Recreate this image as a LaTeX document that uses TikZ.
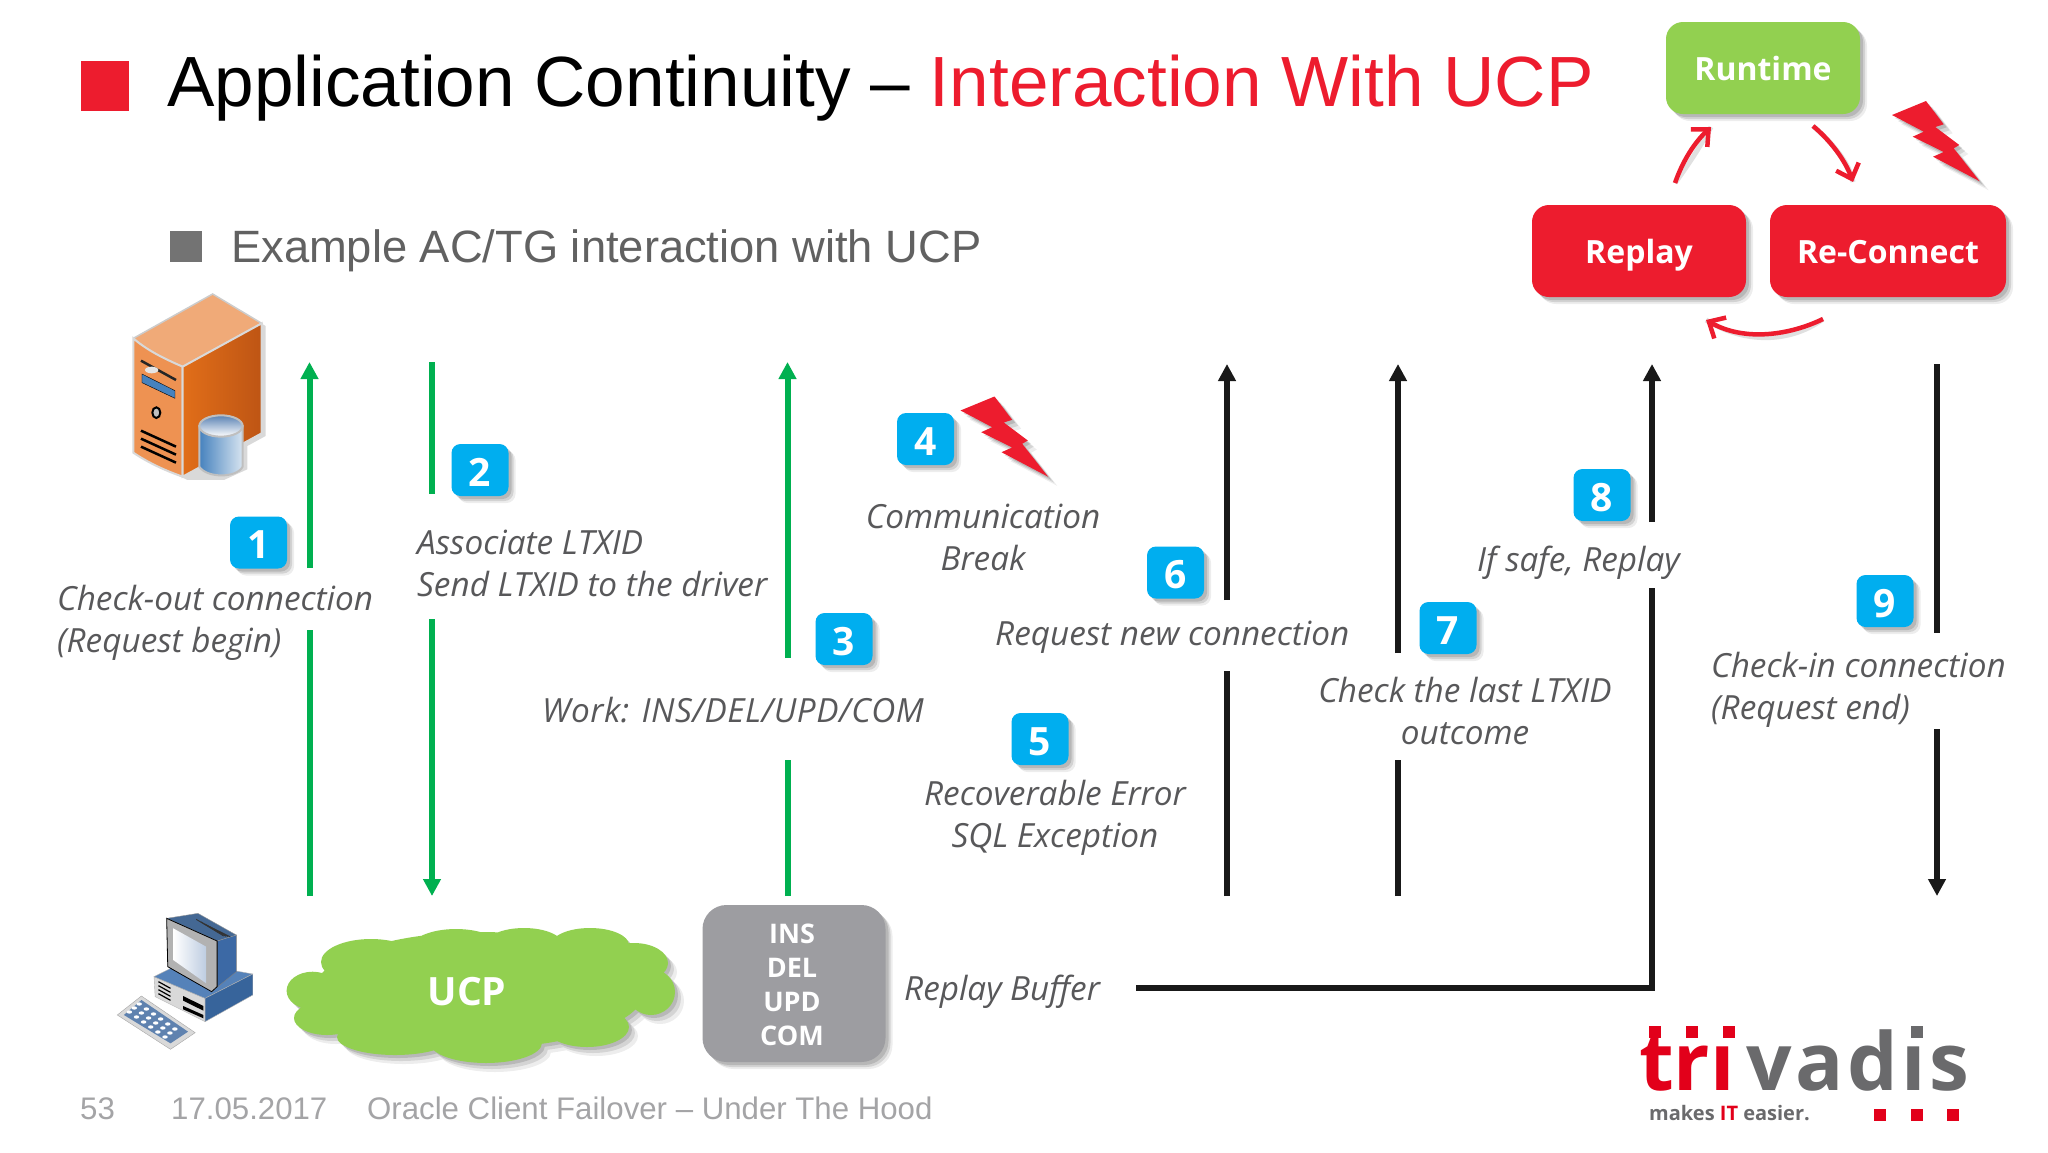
\documentclass[tikz,border=0pt]{standalone}
\usepackage{fontspec}
\setmainfont{Liberation Sans}
\newfontfamily\seg{Open Sans}
\usetikzlibrary{arrows.meta,shadows,calc}
\definecolor{tred}{HTML}{ED1C2E}
\definecolor{tgreen}{HTML}{92D050}
\definecolor{aqua}{HTML}{00AEEF}
\definecolor{arrowgreen}{HTML}{00B050}
\definecolor{ink}{HTML}{58585A}
\definecolor{boxgray}{HTML}{9D9DA1}
\definecolor{footgray}{HTML}{A4A4A6}
\definecolor{logored}{HTML}{E2001A}
\definecolor{logogray}{HTML}{6A6A6C}
\definecolor{srvtop}{HTML}{F0AA78}
\definecolor{srvfront}{HTML}{EE9252}
\definecolor{srvrighta}{HTML}{E16E19}
\definecolor{srvrightb}{HTML}{BE5514}
\definecolor{cyla}{HTML}{4682BE}
\definecolor{cylb}{HTML}{D7E4F0}
\definecolor{cylc}{HTML}{5A82B4}
\definecolor{kbd}{HTML}{5F82AF}
\definecolor{wsa}{HTML}{5582B9}
\definecolor{wsb}{HTML}{37649B}
\definecolor{wsc}{HTML}{3C69A5}
\definecolor{wsd}{HTML}{BECDE1}
\tikzset{
 softshadow/.style={general shadow={shadow xshift=3pt,shadow yshift=-3pt,fill=black,opacity=.13},
  general shadow={shadow xshift=5pt,shadow yshift=-5pt,fill=black,opacity=.11},
  general shadow={shadow xshift=7pt,shadow yshift=-7pt,fill=black,opacity=.07}},
 statebox/.style={softshadow,rounded corners=17pt,text=white,inner sep=0,text height=30pt,text depth=6pt,
  font=\seg\bfseries\fontsize{32}{36}\selectfont},
 numbox/.style={softshadow,fill=aqua,rounded corners=9pt,minimum width=57pt,minimum height=52pt,
  text=white,inner sep=0,text height=32pt,text depth=0pt,font=\seg\bfseries\fontsize{39}{40}\selectfont},
 lbl/.style={inner sep=0,text=ink,font=\seg\itshape\fontsize{33.3}{41.8}\selectfont},
 foot/.style={inner sep=0,anchor=base west,text=footgray,font=\fontsize{31.2}{36}\selectfont},
 greenline/.style={arrowgreen,line width=6pt},
 blackline/.style={black!90,line width=5.5pt},
 greentip/.style={-{Triangle[length=17pt,width=17pt]}},
 blacktip/.style={-{Triangle[length=17pt,width=17pt]}},
 looparrow/.style={tred,line width=4.5pt,-{Straight Barb[length=13pt,width=24pt,line width=4.5pt]}},
 loopshadow/.style={black,opacity=.12,line width=5pt},
 boltpic/.pic={
  \foreach \o/\a in {3/.13,6/.1,9/.07}{
   \fill[black,opacity=\a,shift={(\o,\o)}] (0,0)--(34,-14)--(51.7,9.3)--(43.3,12)--(67.3,30)--(61.7,33.3)--(87.7,66.3)--(41,41.7)--(51.7,37)--(20.7,21.7)--(31.7,16.7)--cycle;}
  \fill[tred] (0,0)--(34,-14)--(51.7,9.3)--(43.3,12)--(67.3,30)--(61.7,33.3)--(87.7,66.3)--(41,41.7)--(51.7,37)--(20.7,21.7)--(31.7,16.7)--cycle;
 },
}
\newcommand{\cloudshape}{
 (312.6,990.7) ellipse [x radius=26,y radius=19]
 (371,962) ellipse [x radius=50,y radius=23]
 (456,950) ellipse [x radius=47,y radius=21]
 (524,945) ellipse [x radius=39,y radius=17]
 (590,945) ellipse [x radius=39,y radius=17]
 (634,963) ellipse [x radius=34,y radius=20]
 (651,992) ellipse [x radius=24,y radius=23]
 (587,1027) ellipse [x radius=42,y radius=20]
 (486,1043) ellipse [x radius=56,y radius=20]
 (395,1037) ellipse [x radius=58,y radius=18]
 (327,1018) ellipse [x radius=33,y radius=17]
 (480,990) ellipse [x radius=165,y radius=58]
}
\begin{document}
\begin{tikzpicture}[x=1pt,y=-1pt]
\useasboundingbox[fill=white] (0,0) rectangle (2048,1152);

% header
\fill[tred] (81,61) rectangle (129,111);
\node[inner sep=0,anchor=base west,font=\fontsize{71.1}{80}\selectfont] (title) at (167,106)
  {Application Continuity – \textcolor{tred}{Interaction With UCP}};
\fill[black!55] (170,231) rectangle (202,262);
\node[inner sep=0,anchor=base west,text=black!62,font=\fontsize{45.3}{50}\selectfont] (sub) at (231,262)
  {Example AC/TG interaction with UCP};

% state boxes
\node[statebox,fill=tgreen,minimum width=194pt,minimum height=92pt] (runtime) at (1763,68) {Runtime};
\node[statebox,fill=tred,minimum width=214pt,minimum height=92pt] (replay) at (1639,251) {Replay};
\node[statebox,fill=tred,minimum width=236pt,minimum height=92pt] (reconnect) at (1888,251) {Re-Connect};
\coordinate (a1) at (1675,183); \coordinate (a2) at (1711,127);
\coordinate (b1) at (1813,126); \coordinate (b2) at (1853,182);
\coordinate (c1) at (1823,319); \coordinate (c2) at (1706,320);
\draw[loopshadow,shift={(5,5)}] (a1) .. controls (1683,160) and (1695,142) .. (a2);
\draw[loopshadow,shift={(5,5)}] (b1) .. controls (1830,140) and (1845,160) .. (b2);
\draw[loopshadow,shift={(5,5)}] (c1) .. controls (1790,335) and (1745,342) .. (c2);
\draw[looparrow] (a1) .. controls (1683,160) and (1695,142) .. (a2);
\draw[looparrow] (b1) .. controls (1830,140) and (1845,160) .. (b2);
\draw[looparrow] (c1) .. controls (1790,335) and (1745,342) .. (c2);
\pic at (1892,115) {boltpic};

% server icon
\begin{scope}[shift={(80,270)},x=.3333pt,y=-.3333pt]
 \fill[black,opacity=.15,shift={(12,8)}] (160,205)--(398,72)--(545,160)--(545,490)--(490,520)--(490,590)--(420,622)--(310,622)--(160,548)--cycle;
 \fill[srvtop,draw=black!20,line width=1.5pt] (160,205)--(398,72)--(545,160)--(308,290) .. controls (250,265) and (200,240) .. (160,205);
 \fill[srvfront,draw=black!15,line width=2pt] (160,205) .. controls (200,240) and (250,265) .. (308,290)--(308,620) .. controls (250,600) and (200,575) .. (160,548)--cycle;
 \shade[left color=srvrighta,right color=srvrightb,draw=black!15,line width=2pt] (308,290)--(545,160)--(545,490)--(308,620)--cycle;
 \draw[black!85,line width=2.5pt] (183,272)--(288,330);
 \fill[black!10] (215,300) ellipse [x radius=20,y radius=10];
 \fill[cyla,draw=black] (186,312)--(285,362)--(285,385)--(186,338)--cycle;
 \fill[black!25,draw=black,line width=2pt] (229,428) ellipse [x radius=12,y radius=16];
 \foreach \d in {0,24,48}{\draw[black,line width=2.5pt] (183,482+\d)--(288,530+\d);}
 \shade[left color=cyla,right color=cylb,draw=black!25,line width=2pt]
   (358,468)--(358,590) .. controls (380,625) and (470,625) .. (488,590)--(488,468)--cycle;
 \shade[top color=cylc,bottom color=white,draw=black!25,line width=2pt] (423,468) ellipse [x radius=65,y radius=32];
\end{scope}

% workstation icon
\begin{scope}[shift={(80,880)},x=.5485pt,y=-.3333pt]
 \fill[black!15,draw=black!35] (68,405)--(112,348)--(210,458)--(165,508)--cycle;
 \fill[kbd] (80,405)--(112,360)--(197,455)--(165,490)--cycle;
 \foreach \i in {0,...,5}{\foreach \j in {0,...,2}{
   \fill[white] ($(108,372)+(\i*13,\i*15)+(-\j*9,\j*12)$) circle [x radius=5,y radius=5];}}
 \fill[black!15,draw=black!30] (135,290)--(228,355)--(228,425)--(137,350)--cycle;
 \fill[wsa,draw=black!30] (135,290)--(190,245)--(315,282)--(228,355)--cycle;
 \fill[wsb,draw=black!30] (228,355)--(315,282)--(315,345)--(228,425)--cycle;
 \foreach \d in {0,12,24,36}{\draw[black,line width=1.2pt] (143,305+\d)--(165,325+\d);}
 \fill[black] (188,348)--(225,378)--(225,392)--(188,362)--cycle;
 \fill[black] (188,378)--(225,405)--(225,415)--(188,388)--cycle;
 \fill[wsc,draw=black!50] (250,183)--(285,165)--(285,275)--(240,335)--(250,320)--cycle;
 \fill[wsa!80!black,draw=black!40] (158,115)--(215,100)--(285,165)--(250,183)--cycle;
 \foreach \d in {0,8,16,24}{\draw[black!80,line width=.9pt] (212+\d,118+\d*.9)--(262+\d*.5,168+\d*.1);}
 \fill[black!30,draw=black,line width=.8pt] (158,115)--(250,183)--(250,320)--(240,335)--(160,260)--cycle;
 \shade[left color=white,right color=wsd] (170,145)--(230,200)--(230,310)--(170,240)--cycle;
\end{scope}

% cloud
\foreach \o/\a in {3/.13,6/.1,9/.07}{\fill[black,opacity=\a,shift={(\o,\o)}] \cloudshape;}
\fill[tgreen] \cloudshape;
\node[inner sep=0,text=white,font=\seg\bfseries\fontsize{39}{40}\selectfont] (ucp) at (467,992) {UCP};

% buffer
\node[softshadow,fill=boxgray,rounded corners=24pt,minimum width=183pt,minimum height=157pt,inner sep=0] (buffer) at (794,983.5) {};
\node[inner sep=0,text=white,align=center,font=\seg\bfseries\fontsize{27}{34}\selectfont] (ops) at (792,985) {INS\\DEL\\UPD\\COM};
\node[lbl,anchor=base west] (rb) at (904,1000) {Replay Buffer};

% number boxes
\node[numbox] (n1) at (258.5,542.5) {1};
\node[numbox] (n2) at (480,470) {2};
\node[numbox] (n3) at (844,639) {3};
\node[numbox] (n4) at (925.5,439) {4};
\node[numbox] (n5) at (1040,739) {5};
\node[numbox] (n6) at (1175.5,572.5) {6};
\node[numbox] (n7) at (1448,628) {7};
\node[numbox] (n8) at (1602,495) {8};
\node[numbox] (n9) at (1885,601) {9};
\pic at (960.5,410.5) {boltpic};

% labels
\node[lbl,align=left,anchor=north west] (l1) at (57,585) {Check-out connection\\(Request begin)};
\node[lbl,align=left,anchor=north west] (l2) at (417,530) {Associate LTXID\\Send LTXID to the driver};
\node[lbl,anchor=base west,font=\seg\itshape\fontsize{33.3}{41.8}\selectfont\addfontfeature{LetterSpace=1.6}] (l3) at (542,722) {Work: INS/DEL/UPD/COM};
\node[lbl,align=center,anchor=north] (l4) at (983,504) {Communication\\Break};
\node[lbl,align=center,anchor=north] (l5) at (1055,780) {Recoverable Error\\SQL Exception};
\node[lbl,anchor=base west] (l6) at (995,645) {Request new connection};
\node[lbl,align=center,anchor=north] (l7) at (1465,677) {Check the last LTXID\\outcome};
\node[lbl,anchor=base west] (l8) at (1477,571) {If safe, Replay};
\node[lbl,align=left,anchor=north west] (l9) at (1711,652) {Check-in connection\\(Request end)};

% lifelines
\coordinate (g1a) at (309.5,896); \coordinate (g1b) at (309.5,630);
\coordinate (g1c) at (309.5,568); \coordinate (g1d) at (309.5,362);
\draw[greenline] (g1a) -- (g1b);
\draw[greenline,greentip] (g1c) -- (g1d);
\coordinate (g2a) at (432,362); \coordinate (g2b) at (432,494);
\coordinate (g2c) at (432,619); \coordinate (g2d) at (432,896);
\draw[greenline] (g2a) -- (g2b);
\draw[greenline,greentip] (g2c) -- (g2d);
\coordinate (g3a) at (787.5,896); \coordinate (g3b) at (787.5,760);
\coordinate (g3c) at (787.5,658); \coordinate (g3d) at (787.5,362);
\draw[greenline] (g3a) -- (g3b);
\draw[greenline,greentip] (g3c) -- (g3d);
\coordinate (k6a) at (1227,896); \coordinate (k6b) at (1227,671);
\coordinate (k6c) at (1227,600); \coordinate (k6d) at (1227,364);
\draw[blackline] (k6a) -- (k6b);
\draw[blackline,blacktip] (k6c) -- (k6d);
\coordinate (k7a) at (1398,896); \coordinate (k7b) at (1398,760);
\coordinate (k7c) at (1398,653); \coordinate (k7d) at (1398,364);
\draw[blackline] (k7a) -- (k7b);
\draw[blackline,blacktip] (k7c) -- (k7d);
\coordinate (k8s) at (1136,988); \coordinate (k8m) at (1652,988);
\coordinate (k8b) at (1652,588); \coordinate (k8c) at (1652,522); \coordinate (k8d) at (1652,364);
\draw[blackline,line join=miter] (k8s) -- (k8m) -- (k8b);
\draw[blackline,blacktip] (k8c) -- (k8d);
\coordinate (k9a) at (1937,364); \coordinate (k9b) at (1937,633);
\coordinate (k9c) at (1937,729); \coordinate (k9d) at (1937,896);
\draw[blackline] (k9a) -- (k9b);
\draw[blackline,blacktip] (k9c) -- (k9d);

% footer
\node[foot] (f1) at (80,1119) {53};
\node[foot] (f2) at (171,1119) {17.05.2017};
\node[foot] (f3) at (367,1119) {Oracle Client Failover – Under The Hood};

% logo
\node[inner sep=0,anchor=base west,text=logored,font=\seg\bfseries\fontsize{80}{80}\selectfont] (tri) at (1639,1090) {trı};
\node[inner sep=0,anchor=base west,text=logogray,font=\seg\bfseries\fontsize{80}{80}\selectfont\addfontfeature{LetterSpace=4.5}] (vadis) at (1746,1090) {vadıs};
\foreach \x in {1649,1686,1723}{\fill[logored] (\x,1026) rectangle (\x+12,1038);}
\fill[logogray] (1911,1026) rectangle (1923,1038);
\foreach \x in {1874,1911,1947}{\fill[logored] (\x,1109) rectangle (\x+12,1121);}
\node[inner sep=0,anchor=base west,text=logogray,font=\seg\bfseries\fontsize{20}{24}\selectfont] (tag) at (1649,1120) {makes \textcolor{logored}{IT} easier.};
\end{tikzpicture}
\end{document}
